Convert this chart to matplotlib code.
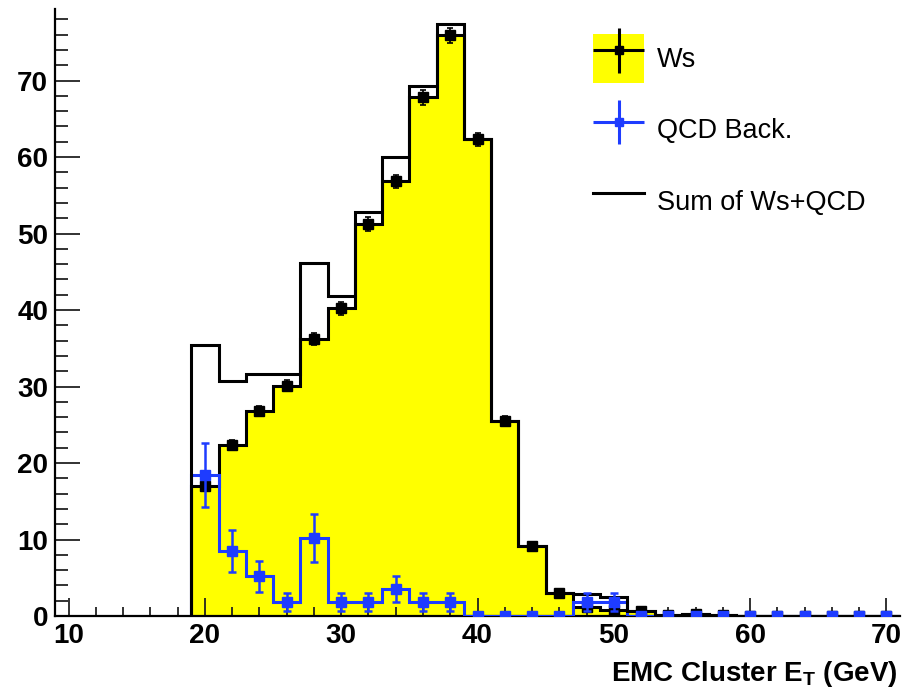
import matplotlib
matplotlib.use('Agg')
import matplotlib.pyplot as plt
import numpy as np
from matplotlib.patches import Patch
from matplotlib.lines import Line2D
from matplotlib.legend_handler import HandlerTuple, HandlerErrorbar
from matplotlib.container import ErrorbarContainer
from matplotlib.ticker import MultipleLocator

plt.rcParams['font.family'] = ['Liberation Sans', 'DejaVu Sans']
plt.rcParams['mathtext.fontset'] = 'custom'
plt.rcParams['mathtext.rm'] = 'Liberation Sans:bold'
plt.rcParams['mathtext.bf'] = 'Liberation Sans:bold'
plt.rcParams['mathtext.it'] = 'Liberation Sans:bold'

# ---- data (bin centres, width 2 GeV) ----
bin_centers = [20, 22, 24, 26, 28, 30, 32, 34, 36, 38, 40, 42, 44,
               46, 48, 50, 52, 54, 56, 58, 60, 62, 64, 66, 68, 70]
ws_values = [17.0, 22.4, 26.8, 30.1, 36.2, 40.2, 51.2, 56.8, 67.8, 75.9, 62.3, 25.5, 9.2,
             3.0, 1.2, 0.8, 0.6, 0.1, 0.3, 0.1, 0.0, 0.0, 0.0, 0.0, 0.0, 0.0]
ws_errors = [0.6, 0.6, 0.7, 0.7, 0.8, 0.8, 0.9, 0.9, 1.0, 1.0, 0.9, 0.6, 0.4,
             0.2, 0.15, 0.1, 0.1, 0.05, 0.05, 0.05, 0.0, 0.0, 0.0, 0.0, 0.0, 0.0]
qcd_values = [18.4, 8.5, 5.2, 1.8, 10.2, 1.8, 1.8, 3.5, 1.8, 1.8, 0.0, 0.0, 0.0,
              0.0, 1.8, 1.8, 0.0, 0.0, 0.0, 0.0, 0.0, 0.0, 0.0, 0.0, 0.0, 0.0]
qcd_errors = [4.2, 2.8, 2.0, 1.2, 3.1, 1.2, 1.2, 1.7, 1.2, 1.2, 0.0, 0.0, 0.0,
              0.0, 1.2, 1.2, 0.0, 0.0, 0.0, 0.0, 0.0, 0.0, 0.0, 0.0, 0.0, 0.0]
sum_values = [35.4, 30.7, 31.7, 31.7, 46.1, 41.8, 52.8, 60.0, 69.3, 77.4, 62.3, 25.5, 9.2,
              3.0, 2.9, 2.5, 0.6, 0.1, 0.3, 0.1, 0.0, 0.0, 0.0, 0.0, 0.0, 0.0]
legend_labels = ['Ws', 'QCD Back.', 'Sum of Ws+QCD']
x_label = r'EMC Cluster E$_\mathrm{T}$ (GeV)'

bin_width = 2
edges = np.concatenate([np.array(bin_centers) - bin_width / 2,
                        [bin_centers[-1] + bin_width / 2]])

YELLOW = '#ffff00'
BLUE = '#1e3cff'
LW = 2.2

fig = plt.figure(figsize=(9.09, 6.88), dpi=100)
ax = fig.add_axes([55 / 909, 1 - 616 / 688, 845 / 909, 607 / 688])

# Ws filled histogram
ax.stairs(ws_values, edges, fill=True, facecolor=YELLOW, edgecolor='none', zorder=1)
ax.stairs(ws_values, edges, baseline=0, color='k', lw=LW, zorder=2)
ax.errorbar(bin_centers, ws_values, yerr=ws_errors, fmt='s', color='k', ms=6.5,
            elinewidth=1.2, capsize=2.5, capthick=1.2, zorder=3)

# QCD background
ax.stairs(qcd_values, edges, baseline=0, color=BLUE, lw=LW, zorder=4)
# Sum
ax.stairs(sum_values, edges, baseline=0, color='k', lw=LW, zorder=5)
ax.errorbar(bin_centers, qcd_values, yerr=qcd_errors, fmt='s', color=BLUE, ms=7,
            elinewidth=1.8, capsize=3, capthick=1.8, zorder=6)

ax.set_xlim(9, 71)
ax.set_ylim(0, 79.35)

for s in ['top', 'right']:
    ax.spines[s].set_visible(False)
for s in ['left', 'bottom']:
    ax.spines[s].set_linewidth(1.6)
    ax.spines[s].set_zorder(2.5)

ax.xaxis.set_major_locator(MultipleLocator(10))
ax.xaxis.set_minor_locator(MultipleLocator(2))
ax.yaxis.set_major_locator(MultipleLocator(10))
ax.yaxis.set_minor_locator(MultipleLocator(2))
ax.tick_params(which='both', direction='in', top=False, right=False, width=1.3, color='#222222')
ax.tick_params(axis='y', which='major', length=18, pad=5, labelsize=20)
ax.tick_params(axis='y', which='minor', length=9.4)
ax.tick_params(axis='x', which='major', length=13, pad=5, labelsize=20)
ax.tick_params(axis='x', which='minor', length=6.5)
for lab in ax.get_xticklabels() + ax.get_yticklabels():
    lab.set_fontweight('bold')

ax.set_xlabel(x_label, fontsize=20, fontweight='bold', ha='right')
ax.xaxis.set_label_coords(0.9975, -0.071)

# legend
ws_proxy = ax.errorbar([], [], xerr=[], yerr=[], fmt='s', color='k', ms=6,
                       elinewidth=2.2, capsize=0)
qcd_proxy = ax.errorbar([], [], xerr=[], yerr=[], fmt='s', color=BLUE, ms=6,
                        elinewidth=2.2, capsize=0)
handles = [(Patch(facecolor=YELLOW, edgecolor='none'), ws_proxy), qcd_proxy,
           Line2D([], [], color='k', lw=LW)]
ax.legend(handles, legend_labels,
          handler_map={tuple: HandlerTuple(ndivide=1, pad=0),
                       ErrorbarContainer: HandlerErrorbar(xerr_size=0.95, yerr_size=0.82)},
          loc='upper left', bbox_to_anchor=(0.6367, 0.9588), frameon=False,
          fontsize=19.5, handlelength=1.9, handleheight=2.415, handletextpad=0.45,
          labelspacing=0.82, borderpad=0, borderaxespad=0)

fig.savefig('out.png', dpi=100)
